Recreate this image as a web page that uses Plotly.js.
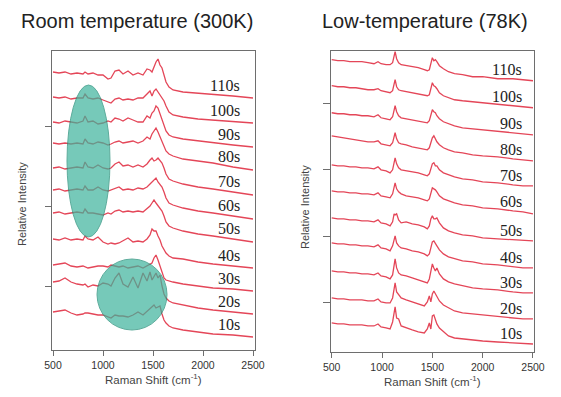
<!DOCTYPE html>
<html>
<head>
<meta charset="utf-8">
<script src="https://cdn.plot.ly/plotly-3.0.1.min.js"></script>
<style>html,body{margin:0;padding:0;background:#fff;}#chart{width:561px;height:397px;}</style>
</head>
<body>
<div id="chart"></div>
<script>
// ---- data ----
const TIMES = ['10s','20s','30s','40s','50s','60s','70s','80s','90s','100s','110s'];

// Room temperature (300K): Raman shift grid and stacked relative intensities
const RT_X = [500,560,620,680,740,800,820,850,900,950,1000,1050,1080,1120,1160,1200,1250,1300,1350,1400,1440,1470,1490,1510,1530,1550,1570,1590,1610,1630,1660,1700,1800,1950,2100,2300,2500];
const RT_10  = [38,39,40,37,35,36,37,37,36,35,35,33,32,35,34,34,33,35,38,35,39,41,43,45,42,43,44,36,30,27,24,22,20,18,16,15,13];
const RT_20  = [68,69,72,68,66,65,66,63,65,64,67,66,64,72,77,66,63,73,62,77,69,78,70,73,77,72,75,64,56,52,49,47,45,42,40,38,36];
const RT_30  = [85,86,87,84,83,84,83,82,83,84,84,83,85,84,83,84,82,83,84,82,84,86,87,92,95,90,84,76,72,70,69,68,66,64,62,61,59];
const RT_40  = [111,110,112,110,111,110,114,111,110,113,108,106,107,106,107,109,112,108,109,108,111,115,121,119,119,114,110,104,100,97,94,92,91,88,86,84,82];
const RT_50  = [137,138,136,137,138,137,141,137,137,136,135,137,136,139,140,138,139,138,139,138,141,144,147,150,147,144,142,139,134,128,124,122,119,116,114,111,108];
const RT_60  = [160,161,159,160,161,160,164,160,160,163,160,159,160,162,163,160,161,160,162,161,163,166,168,171,172,168,166,163,158,152,147,145,142,139,137,134,131];
const RT_70  = [182,183,181,182,183,182,188,183,182,185,182,181,182,186,188,184,185,183,185,183,186,190,192,189,190,192,189,187,182,176,171,169,166,163,161,158,155];
const RT_80  = [207,206,207,206,207,206,211,207,206,208,207,205,206,208,209,207,208,209,207,209,213,211,216,219,222,218,213,209,203,199,196,194,191,189,187,183,180];
const RT_90  = [228,227,229,228,227,229,234,228,229,226,227,229,228,232,231,229,232,230,228,228,234,232,237,239,244,242,236,230,225,219,215,213,211,209,207,205,203];
const RT_100 = [253,252,253,251,252,252,256,252,251,252,250,248,247,251,252,250,251,250,252,252,256,259,254,259,261,258,256,253,249,244,238,235,233,231,230,229,227];
const RT_110 = [278,277,278,276,277,276,278,276,277,275,275,271,272,279,280,276,279,275,277,275,281,280,278,284,288,291,285,282,276,268,263,260,258,257,256,254,252];

// Low temperature (78K)
const LT_X = [500,560,620,680,740,800,860,920,960,990,1040,1080,1105,1120,1130,1145,1165,1190,1240,1300,1360,1420,1450,1470,1485,1500,1515,1530,1545,1570,1610,1660,1720,1800,1900,2000,2150,2300,2400,2500];
const LT_10  = [29,28,28,27,27,27,26,26,28,25,24,23,30,42,45,34,33,26,24,22,20,19,23,29,23,36,37,31,28,24,20,16,14,13,12,11,10,9,9,8];
const LT_20  = [54,53,53,52,52,52,51,51,53,50,49,49,54,66,69,60,57,54,52,50,48,46,50,56,50,58,61,58,55,51,47,44,41,39,38,37,35,34,33,33];
const LT_30  = [81,80,80,79,79,78,78,77,79,76,75,73,77,89,93,84,79,77,76,74,72,70,69,73,82,88,84,81,84,78,73,70,68,66,64,63,62,60,59,59];
const LT_40  = [109,108,108,107,107,106,106,105,107,104,103,101,106,114,116,109,106,104,103,101,100,98,96,98,106,110,111,108,106,102,98,95,93,91,90,88,87,85,84,84];
const LT_50  = [134,133,133,132,132,131,131,130,132,129,128,126,130,138,137,138,132,129,130,128,127,125,123,126,133,136,133,133,134,129,124,121,119,117,116,114,113,112,111,111];
const LT_60  = [161,160,160,159,159,158,158,157,159,156,155,154,158,166,169,163,160,158,156,155,154,152,151,153,159,164,163,162,160,156,153,151,149,147,146,144,143,141,140,138];
const LT_70  = [187,186,186,185,185,184,184,183,185,182,181,179,182,191,194,188,184,182,181,180,179,177,176,178,184,188,189,186,186,182,179,177,175,173,172,170,169,167,166,166];
const LT_80  = [216,215,214,213,212,211,210,210,211,208,207,206,209,216,219,213,209,208,207,205,204,203,202,204,210,214,216,213,210,207,204,202,200,199,197,196,195,193,192,191];
const LT_90  = [239,238,238,237,237,236,236,235,237,234,233,232,235,243,246,240,236,234,233,232,231,230,229,231,238,242,240,239,236,233,230,228,226,224,223,222,220,219,218,217];
const LT_100 = [266,265,265,264,264,263,262,262,263,261,260,259,261,269,272,265,262,261,260,259,258,257,256,257,264,269,266,265,263,259,256,254,252,251,250,249,247,246,245,244];
const LT_110 = [292,291,291,290,290,290,289,288,290,288,287,287,289,298,300,293,289,287,286,285,284,282,281,282,290,294,291,292,290,286,283,280,278,277,275,275,273,273,272,271];

const X_TICKS = [500,1000,1500,2000,2500];

// ---- build ----
const RT = [RT_10,RT_20,RT_30,RT_40,RT_50,RT_60,RT_70,RT_80,RT_90,RT_100,RT_110];
const LT = [LT_10,LT_20,LT_30,LT_40,LT_50,LT_60,LT_70,LT_80,LT_90,LT_100,LT_110];

const LINE = {color:'rgb(228,70,88)', width:1.3};
const traces = [];
RT.forEach((ys,i)=>traces.push({type:'scatter',mode:'lines',x:RT_X,y:ys,name:'300K '+TIMES[i],xaxis:'x',yaxis:'y',line:LINE,hoverinfo:'skip'}));
LT.forEach((ys,i)=>traces.push({type:'scatter',mode:'lines',x:LT_X,y:ys,name:'78K '+TIMES[i],xaxis:'x2',yaxis:'y2',line:LINE,hoverinfo:'skip'}));

const labelFont = {family:'Liberation Serif, Times New Roman, serif', size:16, color:'#222'};
const annotations = [];
const iRT = RT_X.indexOf(2300), iLT = LT_X.indexOf(2300);
TIMES.forEach((t,i)=>{
  annotations.push({xref:'x',yref:'y',x:2385,y:RT[i][iRT],text:t,showarrow:false,xanchor:'right',yanchor:'middle',yshift:11,font:labelFont});
  annotations.push({xref:'x2',yref:'y2',x:2410,y:LT[i][iLT],text:t,showarrow:false,xanchor:'right',yanchor:'middle',yshift:9,font:labelFont});
});
const sans = 'Liberation Sans, Arial, sans-serif';
annotations.push({xref:'paper',yref:'paper',x:137/561,y:1-21/397,text:'Room temperature (300K)',showarrow:false,xanchor:'center',yanchor:'middle',font:{family:sans,size:20,color:'#222'}});
annotations.push({xref:'paper',yref:'paper',x:425/561,y:1-21/397,text:'Low-temperature (78K)',showarrow:false,xanchor:'center',yanchor:'middle',font:{family:sans,size:20,color:'#222'}});
annotations.push({xref:'paper',yref:'paper',x:22/561,y:1-204/397,text:'Relative Intensity',textangle:-90,showarrow:false,xanchor:'center',yanchor:'middle',font:{family:sans,size:11,color:'#444'}});
annotations.push({xref:'paper',yref:'paper',x:305/561,y:1-207/397,text:'Relative Intensity',textangle:-90,showarrow:false,xanchor:'center',yanchor:'middle',font:{family:sans,size:11,color:'#444'}});

const axisCommon = {showline:true,mirror:true,linecolor:'#6e6e6e',linewidth:1,showgrid:false,zeroline:false,ticks:'outside',tickcolor:'#6e6e6e',tickwidth:1,fixedrange:true};
const xCommon = Object.assign({},axisCommon,{tickvals:X_TICKS,ticklen:5,tickfont:{family:sans,size:10.5,color:'#333'},
  title:{text:'Raman Shift (cm<sup>-1</sup>)',font:{family:sans,size:11.5,color:'#444'},standoff:6}});

const layout = {
  width:561,height:397,margin:{l:0,r:0,t:0,b:0},paper_bgcolor:'#fff',plot_bgcolor:'#fff',showlegend:false,
  xaxis:Object.assign({},xCommon,{domain:[51.7/561,255/561],range:[487,2520],anchor:'y'}),
  yaxis:Object.assign({},axisCommon,{domain:[(397-350)/397,(397-51)/397],range:[0,299],tickvals:[64,144,224],showticklabels:false,ticklen:6,anchor:'x'}),
  xaxis2:Object.assign({},xCommon,{domain:[330.7/561,534/561],range:[490,2510],anchor:'y2'}),
  yaxis2:Object.assign({},axisCommon,{domain:[(397-352)/397,(397-50.7)/397],range:[0,301],tickvals:[49,115,182,248],showticklabels:false,ticklen:7,anchor:'x2'}),
  annotations:annotations,
  shapes:[
    {type:'circle',xref:'x',yref:'y',x0:640,x1:1070,y0:113,y1:265,fillcolor:'#3db39c',opacity:0.7,line:{color:'#1a8a73',width:1},layer:'above'},
    {type:'circle',xref:'x',yref:'y',x0:940,x1:1640,y0:20,y1:91,fillcolor:'#3db39c',opacity:0.7,line:{color:'#1a8a73',width:1},layer:'above'}
  ]
};
Plotly.newPlot('chart',traces,layout,{displayModeBar:false,staticPlot:true});
</script>
</body>
</html>
